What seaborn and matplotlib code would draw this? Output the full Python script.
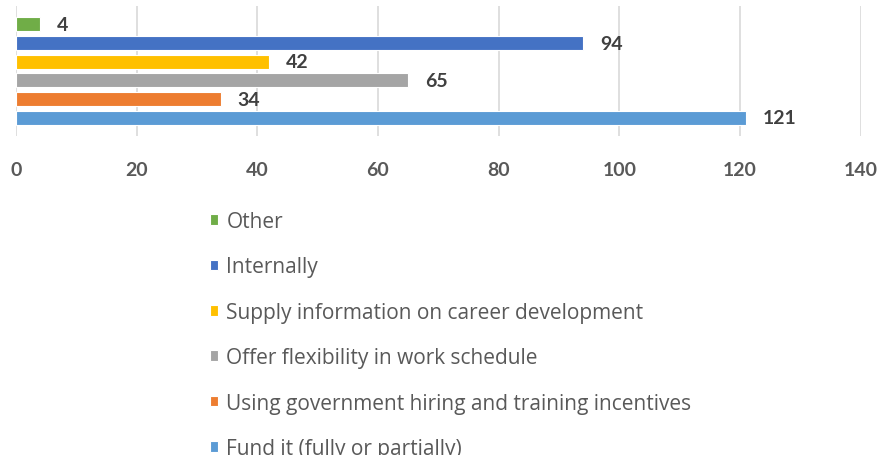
import pandas as pd
import seaborn as sns
import matplotlib.pyplot as plt

categories = [
    "Other",
    "Internally",
    "Supply information on career development",
    "Offer flexibility in work schedule",
    "Using government hiring and training incentives",
    "Fund it (fully or partially)",
]
counts = [4, 94, 42, 65, 34, 121]
colors = ["#70AD47", "#4472C4", "#FFC000", "#A5A5A5", "#ED7D31", "#5B9BD5"]
x_ticks = [0, 20, 40, 60, 80, 100, 120, 140]

df = pd.DataFrame({"category": categories, "count": counts})

sns.set_theme(style="white")
plt.rcParams["font.family"] = ["Lato", "DejaVu Sans"]

fig = plt.figure(figsize=(8.81, 4.56), dpi=100)
ax = fig.add_axes([0.018, 0.70, 0.959, 0.285])

sns.barplot(data=df, y="category", x="count", hue="category",
            order=categories, hue_order=categories, palette=colors,
            saturation=1, dodge=False, width=0.75, orient="h", ax=ax,
            edgecolor="white", linewidth=0.8, legend=True)

for c in ax.containers:
    ax.bar_label(c, padding=12, fontsize=14, fontweight="bold", color="#404040",
                 family=["Lato", "DejaVu Sans"])

ax.set_xlim(0, 140)
ax.set_ylim(5.97, -1.0)
ax.set_xticks(x_ticks)
ax.set_yticks([])
ax.set_xlabel("")
ax.set_ylabel("")
ax.xaxis.grid(True, color="#D9D9D9", linewidth=1.2)
ax.set_axisbelow(True)
for s in ax.spines.values():
    s.set_visible(False)
ax.tick_params(axis="x", length=0, pad=18, labelsize=14, labelcolor="#595959")
for lab in ax.get_xticklabels():
    lab.set_fontweight("bold")

handles, labels = ax.get_legend_handles_labels()
ax.legend_.remove()
fig.legend(handles, labels, loc="upper left", bbox_to_anchor=(0.238, 0.535),
           frameon=False, ncol=1, prop={"family": ["Open Sans", "DejaVu Sans"], "size": 15},
           labelcolor="#595959", handlelength=0.4, handleheight=0.4,
           handletextpad=0.4, labelspacing=1.17, borderpad=0, borderaxespad=0)

fig.savefig("out.png", dpi=100)
